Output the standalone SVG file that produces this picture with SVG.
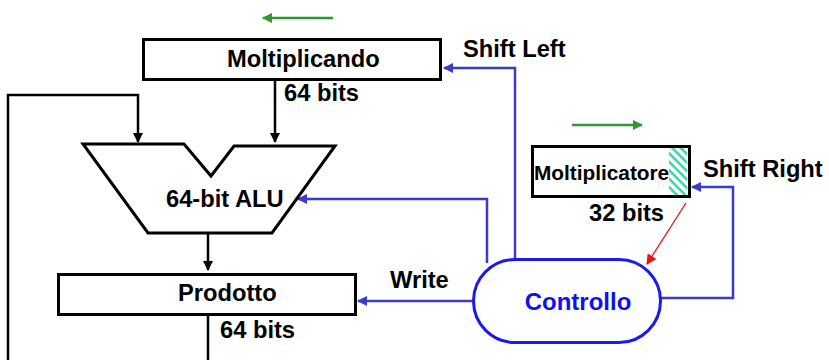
<svg xmlns="http://www.w3.org/2000/svg" width="829" height="360" viewBox="0 0 829 360">
<style>
.t{font-family:"Liberation Sans",Arial,sans-serif;font-weight:bold;font-size:23.7px;fill:#000}
.box{fill:#fff;stroke:#000;stroke-width:3}
.bk{fill:none;stroke:#000;stroke-width:2.5}
.bl{fill:none;stroke:#3a3acc;stroke-width:2.5}
.gr{fill:none;stroke:#2e9a2e;stroke-width:2.5}
</style>
<defs>
<marker id="ab" viewBox="0 0 10 10" refX="9" refY="5" markerWidth="4" markerHeight="4" orient="auto" markerUnits="strokeWidth"><path d="M0,0L10,5L0,10z" fill="#000"/></marker>
<marker id="abl" viewBox="0 0 10 10" refX="9" refY="5" markerWidth="4" markerHeight="4" orient="auto" markerUnits="strokeWidth"><path d="M0,0L10,5L0,10z" fill="#3a3acc"/></marker>
<marker id="agr" viewBox="0 0 10 10" refX="9" refY="5" markerWidth="4" markerHeight="4" orient="auto" markerUnits="strokeWidth"><path d="M0,0L10,5L0,10z" fill="#2e9a2e"/></marker>
<marker id="ar" viewBox="0 0 10 10" refX="9" refY="5" markerWidth="8" markerHeight="8" orient="auto" markerUnits="strokeWidth"><path d="M0,0L10,5L0,10z" fill="#ee1111"/></marker>
<pattern id="hatch" patternUnits="userSpaceOnUse" width="6" height="6" patternTransform="rotate(45)"><rect width="6" height="6" fill="#fff"/><rect width="6" height="2.5" fill="#3cd0ad"/></pattern>
</defs>
<g id="connectors">
<path class="bk" d="M275,80V142" marker-end="url(#ab)"/>
<path class="bk" d="M8,360V95H138V142" marker-end="url(#ab)"/>
<path class="bk" d="M208,233V270" marker-end="url(#ab)"/>
<path class="bk" d="M208,315V360"/>
<path class="bl" d="M487,263V199H298" marker-end="url(#abl)"/>
<path class="bl" d="M473,301H358" marker-end="url(#abl)"/>
<path class="bl" d="M515,259V68H444" marker-end="url(#abl)"/>
<path class="bl" d="M661,298H733V187H692" marker-end="url(#abl)"/>
<path d="M686,203L647,264" fill="none" stroke="#ee1111" stroke-width="1.3" marker-end="url(#ar)"/>
<path class="gr" d="M333,18H263" marker-end="url(#agr)"/>
<path class="gr" d="M572,125H642" marker-end="url(#agr)"/>
</g>
<g id="moltiplicando">
<rect class="box" x="143.5" y="39.5" width="297" height="40"/>
<text class="t" x="227" y="67">Moltiplicando</text>
<text class="t" x="284" y="101">64 bits</text>
</g>
<g id="alu">
<polygon class="box" points="83,144 184,144 211,176 234,146 335,146 272,233 148,233"/>
<text class="t" x="166" y="207">64-bit ALU</text>
</g>
<g id="prodotto">
<rect class="box" x="58.5" y="274.5" width="297" height="40"/>
<text class="t" x="178" y="301">Prodotto</text>
<text class="t" x="220" y="338">64 bits</text>
</g>
<g id="moltiplicatore">
<rect class="box" x="532.5" y="146.5" width="157" height="50"/>
<rect x="669" y="148" width="18" height="47" fill="url(#hatch)"/>
<text class="t" x="534" y="180" style="font-size:20.8px">Moltiplicatore</text>
<text class="t" x="589" y="221">32 bits</text>
</g>
<g id="controllo">
<rect x="473.5" y="259.5" width="187" height="83" rx="41.5" fill="#fff" stroke="#1a1aee" stroke-width="3"/>
<text class="t" x="578" y="310" text-anchor="middle" style="fill:#1010ee;font-size:24px">Controllo</text>
</g>
<g id="labels">
<text class="t" x="463" y="57">Shift Left</text>
<text class="t" x="703" y="177">Shift Right</text>
<text class="t" x="390" y="288">Write</text>
</g>
</svg>
